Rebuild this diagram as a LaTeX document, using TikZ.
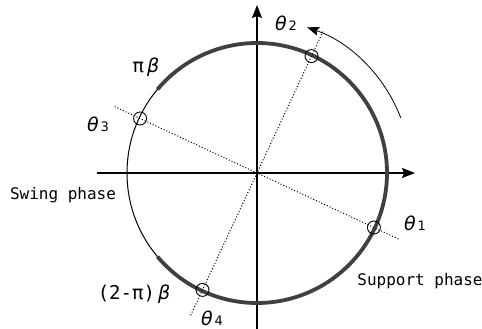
\documentclass[tikz,border=0pt]{standalone}
\usepackage{fontspec}
\setmainfont{DejaVu Sans}
\newfontfamily\gothic{DejaVu Sans Mono}
\usetikzlibrary{arrows.meta}

\newcommand{\thlab}[1]{{\fontsize{19}{19}\selectfont\itshape θ}\,{\fontsize{13}{13}\selectfont #1}}

\begin{document}
\begin{tikzpicture}[x=1pt,y=1pt,
  axis/.style={line width=1.1pt,-{Stealth[length=13pt,width=10pt,inset=2pt]}},
  phaseline/.style={line width=1pt},
  stance/.style={line width=3.8pt,black!75},
  ray/.style={dotted,line width=1pt},
  hit/.style={circle,draw,line width=0.9pt,minimum size=13pt,inner sep=0pt},
  txt/.style={font=\gothic\fontsize{16}{16}\selectfont},
  greek/.style={font=\fontsize{19}{19}\selectfont}]
  \useasboundingbox (-257,-156) rectangle (225,173);

  % Axes
  \coordinate (O) at (0,0);
  \coordinate (xl) at (-160,0);
  \coordinate (xr) at (158,0);
  \coordinate (yb) at (0,-156);
  \coordinate (yt) at (0,168);
  \draw[axis] (xl) -- (xr);
  \draw[axis] (yb) -- (yt);

  % Unit circle: thin swing part, thick support part
  \draw[phaseline] (O) circle (130);
  \draw[stance] (-140:130) arc (-140:140:130);

  % Dotted rays through the phase points
  \coordinate (r1a) at (-25:157);
  \coordinate (r1b) at (155:157);
  \coordinate (r2a) at (65:157);
  \coordinate (r2b) at (245:157);
  \draw[ray] (r1b) -- (r1a);
  \draw[ray] (r2b) -- (r2a);

  % Phase points
  \foreach \i/\a in {1/-25,2/65,3/155,4/245} {
    \node[hit] (th\i) at (\a:129) {};
  }

  % Direction of rotation
  \coordinate (rotS) at (21:154);
  \draw[line width=0.8pt,-{Stealth[length=12pt,width=9pt,inset=2pt]}] (rotS) arc (21:71:154);

  % Labels
  \node (l1) at (158,-50) {\thlab{1}};
  \node (l2) at (29,150) {\thlab{2}};
  \node (l3) at (-159,49) {\thlab{3}};
  \node (l4) at (-45,-145) {\thlab{4}};
  \node[greek] (pb) at (-111,106) {π\,{\itshape β}};
  \node[greek] (qb) at (-123,-121) {{\gothic (2-}π{\gothic )}\,{\itshape β}};
  \node[txt] (sw) at (-194,-22) {Swing phase};
  \node[txt] (su) at (163,-108) {Support phase};
\end{tikzpicture}
\end{document}
